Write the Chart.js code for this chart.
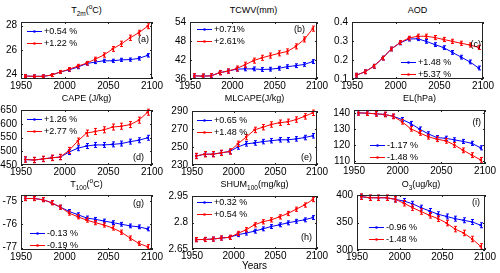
<!DOCTYPE html>
<html>
<head>
<meta charset="utf-8">
<script src="https://cdn.jsdelivr.net/npm/chart.js@4.4.1/dist/chart.umd.min.js"></script>
<style>
body{margin:0;background:#fff;width:500px;height:273px;overflow:hidden;position:relative;font-family:"Liberation Sans",Arial,sans-serif}
canvas{position:absolute}
.ttl{position:absolute;text-align:center;font-size:9px;line-height:11px;color:#000;white-space:nowrap}
.ttl sub,.ttl sup{font-size:6.5px;line-height:0}
</style>
</head>
<body>
<script>
var FONT = '"Liberation Sans", Arial, sans-serif';

// decadal means
var years = [1955, 1965, 1975, 1985, 1995, 2005, 2015, 2025, 2035, 2045, 2055, 2065, 2075, 2085, 2095];
var xTicks = [1950, 2000, 2050, 2100];

// (a) T2m
var t2mBlue = [23.84, 23.82, 23.82, 23.92, 24.18, 24.36, 24.58, 24.87, 25.0, 25.1, 25.1, 25.18, 25.2, 25.3, 25.55];
var t2mRed  = [23.84, 23.82, 23.82, 23.92, 24.18, 24.4, 24.66, 24.9, 25.24, 25.58, 26.08, 26.5, 27.0, 27.42, 27.95];
var t2mErrBlue = [0.12, 0.12, 0.12, 0.12, 0.12, 0.13, 0.13, 0.13, 0.13, 0.13, 0.13, 0.13, 0.13, 0.14, 0.14];
var t2mErrRed  = [0.12, 0.12, 0.12, 0.12, 0.12, 0.14, 0.15, 0.15, 0.16, 0.18, 0.2, 0.22, 0.22, 0.2, 0.2];
var t2mPct = ['+0.54 %', '+1.22 %'];
var t2mTicks = [24, 26, 28];

// (b) TCWV
var tcwvBlue = [37.0, 36.9, 37.0, 38.0, 38.5, 39.1, 39.2, 39.2, 39.0, 39.1, 39.4, 39.9, 40.2, 40.6, 41.5];
var tcwvRed  = [37.0, 36.9, 37.0, 38.0, 38.5, 39.3, 40.5, 41.8, 42.7, 43.4, 44.1, 44.7, 46.3, 48.5, 51.9];
var tcwvErrBlue = [0.6, 0.6, 0.6, 0.6, 0.6, 0.6, 0.6, 0.6, 0.6, 0.6, 0.6, 0.6, 0.6, 0.6, 0.6];
var tcwvErrRed  = [0.7, 0.7, 0.7, 0.7, 0.7, 0.8, 0.8, 0.8, 0.8, 0.8, 0.8, 0.8, 0.8, 0.8, 0.8];
var tcwvPct = ['+0.71%', '+2.61%'];
var tcwvTicks = [36, 42, 48, 54];

// (c) AOD
var aodBlue = [0.12, 0.138, 0.167, 0.21, 0.258, 0.29, 0.31, 0.312, 0.298, 0.281, 0.265, 0.24, 0.215, 0.19, 0.158];
var aodRed  = [0.12, 0.138, 0.167, 0.21, 0.258, 0.292, 0.315, 0.325, 0.325, 0.318, 0.308, 0.298, 0.288, 0.279, 0.266];
var aodErrBlue = [0.01, 0.01, 0.01, 0.01, 0.01, 0.01, 0.01, 0.01, 0.01, 0.01, 0.01, 0.01, 0.01, 0.01, 0.01];
var aodErrRed  = [0.01, 0.01, 0.01, 0.01, 0.01, 0.01, 0.01, 0.011, 0.011, 0.011, 0.011, 0.011, 0.011, 0.011, 0.011];
var aodPct = ['+1.48 %', '+5.37 %'];
var aodTicks = [0.1, 0.2, 0.3, 0.4];

// (d) CAPE
var capeBlue = [470, 468, 472, 476, 479, 497, 511, 519, 523, 523, 525, 528, 535, 540, 549];
var capeRed  = [470, 468, 472, 476, 479, 503, 537, 566, 572, 578, 588, 591, 597, 613, 642];
var capeErrBlue = [9, 9, 9, 9, 9, 9, 9, 9, 9, 9, 9, 9, 9, 9, 9];
var capeErrRed  = [10, 10, 10, 10, 10, 11, 11, 11, 11, 11, 11, 11, 11, 11, 11];
var capePct = ['+1.26 %', '+2.77 %'];
var capeTicks = [450, 500, 550, 600, 650];

// (e) MLCAPE
var mlcapeBlue = [240, 242, 242, 243.5, 245, 250, 253.5, 254.5, 256, 257, 258, 258, 259, 260.5, 262.5];
var mlcapeRed  = [240, 242, 242, 243.5, 245, 253.5, 261, 269, 272, 275, 277, 278, 280.5, 284, 288];
var mlcapeErrBlue = [2.5, 2.5, 2.5, 2.5, 2.5, 2.5, 2.5, 2.5, 2.5, 2.5, 2.5, 2.5, 2.5, 2.5, 2.5];
var mlcapeErrRed  = [3, 3, 3, 3, 3, 3, 3, 3, 3, 3, 3, 3, 3, 3, 3];
var mlcapePct = ['+0.65 %', '+1.48 %'];
var mlcapeTicks = [230, 250, 270, 290];

// (f) EL
var elBlue = [140.2, 140, 139.6, 139.2, 138, 136, 133.5, 130, 127, 124.6, 124.2, 123.2, 122.2, 121, 118.2];
var elRed  = [140.2, 140, 139.6, 139.2, 138, 134.6, 130.2, 127.6, 125.2, 123.6, 122.6, 120, 116.6, 113.6, 110.6];
var elErrBlue = [1.3, 1.3, 1.3, 1.3, 1.3, 1.3, 1.3, 1.3, 1.3, 1.3, 1.3, 1.3, 1.3, 1.3, 1.3];
var elErrRed  = [1.5, 1.5, 1.5, 1.5, 1.5, 1.5, 1.5, 1.5, 1.5, 1.5, 1.5, 1.5, 1.5, 1.5, 1.5];
var elPct = ['-1.17 %', '-1.48 %'];
var elTicks = [110, 120, 130, 140];

// (g) T100
var t100Blue = [-74.9, -74.9, -74.95, -75.08, -75.27, -75.45, -75.59, -75.73, -75.79, -75.86, -75.93, -76.0, -76.07, -76.11, -76.2];
var t100Red  = [-74.9, -74.9, -74.95, -75.08, -75.27, -75.52, -75.68, -75.82, -75.93, -76.03, -76.16, -76.34, -76.59, -76.82, -76.96];
var t100ErrBlue = [0.08, 0.08, 0.08, 0.08, 0.08, 0.08, 0.08, 0.08, 0.08, 0.08, 0.08, 0.08, 0.08, 0.08, 0.08];
var t100ErrRed  = [0.09, 0.09, 0.09, 0.09, 0.09, 0.09, 0.09, 0.09, 0.09, 0.09, 0.09, 0.09, 0.09, 0.09, 0.09];
var t100Pct = ['-0.13 %', '-0.19 %'];
var t100Ticks = [-77, -76, -75];

// (h) SHUM100
var shumBlue = [2.703, 2.704, 2.706, 2.712, 2.716, 2.731, 2.74, 2.751, 2.764, 2.777, 2.787, 2.798, 2.807, 2.815, 2.828];
var shumRed  = [2.703, 2.704, 2.706, 2.712, 2.716, 2.738, 2.759, 2.787, 2.804, 2.815, 2.832, 2.851, 2.875, 2.899, 2.93];
var shumErrBlue = [0.011, 0.011, 0.011, 0.011, 0.011, 0.011, 0.011, 0.011, 0.011, 0.011, 0.011, 0.011, 0.011, 0.011, 0.011];
var shumErrRed  = [0.012, 0.012, 0.012, 0.012, 0.012, 0.012, 0.012, 0.012, 0.012, 0.012, 0.012, 0.012, 0.012, 0.012, 0.012];
var shumPct = ['+0.32 %', '+0.54 %'];
var shumTicks = [2.65, 2.8, 2.95];

// (i) O3
var o3Blue = [397, 395, 395, 395, 392, 389, 384, 377, 371, 365, 361, 357, 354, 351, 345];
var o3Red  = [397, 395, 395, 395, 392, 385, 377, 370, 363, 357, 349, 338, 331, 320, 306.6];
var o3ErrBlue = [4.5, 4.5, 4.5, 4.5, 4.5, 4.5, 4.5, 4.5, 4.5, 4.5, 4.5, 4.5, 4.5, 4.5, 4.5];
var o3ErrRed  = [5, 5, 5, 5, 5, 5, 5, 5, 5, 5, 5, 5, 5, 5, 5];
var o3Pct = ['-0.96 %', '-1.48 %'];
var o3Ticks = [300, 350, 400];

// box = plot frame [left, top, right, bottom]; leg = legend offset; tag = letter offset (from right, from top)
var panels = [
  {tag:'(a)', title:'T<sub>2m</sub>(<sup>o</sup>C)', blue:t2mBlue, red:t2mRed, eb:t2mErrBlue, er:t2mErrRed, pct:t2mPct, ticks:t2mTicks, min:23.6, max:28.3, box:[21,20,152,79], leg:[6,9], tagPos:[3,18], ty:10},
  {tag:'(b)', title:'TCWV(mm)', blue:tcwvBlue, red:tcwvRed, eb:tcwvErrBlue, er:tcwvErrRed, pct:tcwvPct, ticks:tcwvTicks, min:36, max:54, box:[190,20,317,79], leg:[7,7], tagPos:[12,8], ty:10},
  {tag:'(c)', title:'AOD', blue:aodBlue, red:aodRed, eb:aodErrBlue, er:aodErrRed, pct:aodPct, ticks:aodTicks, min:0.1, max:0.4, box:[352,20,483,79], leg:[49,40], tagPos:[2,23], ty:10},
  {tag:'(d)', title:'CAPE (J/kg)', blue:capeBlue, red:capeRed, eb:capeErrBlue, er:capeErrRed, pct:capePct, ticks:capeTicks, min:450, max:650, box:[21,108,152,165], leg:[6,9], tagPos:[8,48], ty:98},
  {tag:'(e)', title:'MLCAPE(J/kg)', blue:mlcapeBlue, red:mlcapeRed, eb:mlcapeErrBlue, er:mlcapeErrRed, pct:mlcapePct, ticks:mlcapeTicks, min:230, max:290, box:[192,109,317,165], leg:[5,9], tagPos:[5,47], ty:98},
  {tag:'(f)', title:'EL(hPa)', blue:elBlue, red:elRed, eb:elErrBlue, er:elErrRed, pct:elPct, ticks:elTicks, min:108, max:142, box:[354,108,485,164], leg:[16,35], tagPos:[4,13], ty:98},
  {tag:'(g)', title:'T<sub>100</sub>(<sup>o</sup>C)', blue:t100Blue, red:t100Red, eb:t100ErrBlue, er:t100ErrRed, pct:t100Pct, ticks:t100Ticks, min:-77.1, max:-74.75, box:[21,193,152,250], leg:[9,38], tagPos:[8,9], ty:184},
  {tag:'(h)', title:'SHUM<sub>100</sub>(mg/kg)', blue:shumBlue, red:shumRed, eb:shumErrBlue, er:shumErrRed, pct:shumPct, ticks:shumTicks, min:2.65, max:2.95, box:[192,194,317,249], leg:[5,6], tagPos:[5,42], ty:184, xlabel:'Years'},
  {tag:'(i)', title:'O<sub>3</sub>(ug/kg)', blue:o3Blue, red:o3Red, eb:o3ErrBlue, er:o3ErrRed, pct:o3Pct, ticks:o3Ticks, min:300, max:400, box:[357,193,485,250], leg:[12,32], tagPos:[5,8], ty:184}
];

var deco = {
  id: 'deco',
  afterDatasetDraw: function(chart, args) {
    var ds = chart.data.datasets[args.index];
    var ys = chart.scales.y, ctx = chart.ctx;
    ctx.save();
    ctx.strokeStyle = ds.borderColor;
    ctx.lineWidth = 1;
    args.meta.data.forEach(function(pt, i) {
      var v = ds.data[i].y, e = ds.err[i];
      var y1 = ys.getPixelForValue(v - e), y2 = ys.getPixelForValue(v + e);
      var x = Math.round(pt.x) + 0.5;
      ctx.beginPath();
      ctx.moveTo(x, y1); ctx.lineTo(x, y2);
      ctx.moveTo(x - 1.5, y1); ctx.lineTo(x + 1.5, y1);
      ctx.moveTo(x - 1.5, y2); ctx.lineTo(x + 1.5, y2);
      ctx.stroke();
    });
    ctx.restore();
  },
  afterDraw: function(chart, args, opts) {
    var a = chart.chartArea, ctx = chart.ctx;
    ctx.save();
    // frame + inward ticks
    ctx.strokeStyle = '#222';
    ctx.lineWidth = 1;
    ctx.strokeRect(a.left + 0.5, a.top + 0.5, a.right - a.left - 1, a.bottom - a.top - 1);
    ctx.beginPath();
    chart.scales.x.ticks.forEach(function(t) {
      var x = Math.round(chart.scales.x.getPixelForValue(t.value)) + 0.5;
      ctx.moveTo(x, a.bottom); ctx.lineTo(x, a.bottom - 2);
      ctx.moveTo(x, a.top); ctx.lineTo(x, a.top + 2);
    });
    chart.scales.y.ticks.forEach(function(t) {
      var y = Math.round(chart.scales.y.getPixelForValue(t.value)) + 0.5;
      ctx.moveTo(a.left, y); ctx.lineTo(a.left + 2, y);
      ctx.moveTo(a.right, y); ctx.lineTo(a.right - 2, y);
    });
    ctx.stroke();
    // legend
    ctx.font = '9px ' + FONT;
    ctx.textBaseline = 'middle';
    ctx.textAlign = 'left';
    chart.data.datasets.forEach(function(ds, i) {
      var x0 = a.left + opts.leg[0], y = a.top + opts.leg[1] + i * 12 + 0.5;
      ctx.strokeStyle = ds.borderColor;
      ctx.fillStyle = ds.borderColor;
      ctx.beginPath(); ctx.moveTo(x0, y); ctx.lineTo(x0 + 15, y); ctx.stroke();
      ctx.beginPath(); ctx.arc(x0 + 7.5, y, 1.3, 0, Math.PI * 2); ctx.fill();
      ctx.fillStyle = '#000';
      ctx.fillText(ds.label, x0 + 17, y);
    });
    // panel letter
    ctx.textAlign = 'right';
    ctx.fillText(opts.tag, a.right - opts.tagPos[0], a.top + opts.tagPos[1]);
    ctx.restore();
  }
};

var L = 30, T = 8, R = 14, B = 16;

panels.forEach(function(p) {
  var l = p.box[0], t = p.box[1], r = p.box[2], b = p.box[3];
  var bh = p.xlabel ? 24 : B;

  var ttl = document.createElement('div');
  ttl.className = 'ttl';
  ttl.style.left = l + 'px';
  ttl.style.width = (r - l) + 'px';
  ttl.style.top = (p.ty - 5.5) + 'px';
  ttl.innerHTML = p.title;
  document.body.appendChild(ttl);

  var cv = document.createElement('canvas');
  cv.width = r - l + L + R;
  cv.height = b - t + T + bh;
  cv.style.left = (l - L) + 'px';
  cv.style.top = (t - T) + 'px';
  document.body.appendChild(cv);

  var tickFont = {size: 10, family: FONT};
  new Chart(cv, {
    type: 'line',
    data: {
      datasets: [
        {label: p.pct[0], data: years.map(function(x, i) { return {x: x, y: p.blue[i]}; }), err: p.eb,
         borderColor: '#0000ff', backgroundColor: '#0000ff', pointBackgroundColor: '#0000ff', order: 1},
        {label: p.pct[1], data: years.map(function(x, i) { return {x: x, y: p.red[i]}; }), err: p.er,
         borderColor: '#ff0000', backgroundColor: '#ff0000', pointBackgroundColor: '#ff0000', order: 0}
      ]
    },
    options: {
      responsive: false,
      animation: false,
      devicePixelRatio: 1,
      layout: {padding: {left: 0, top: T, right: R, bottom: 0}},
      elements: {
        line: {borderWidth: 1, tension: 0},
        point: {radius: 1.3, borderWidth: 0, hoverRadius: 1.3}
      },
      plugins: {
        legend: {display: false},
        tooltip: {enabled: false},
        deco: {leg: p.leg, tag: p.tag, tagPos: p.tagPos}
      },
      scales: {
        x: {
          type: 'linear', min: 1950, max: 2100,
          afterBuildTicks: function(s) { s.ticks = xTicks.map(function(v) { return {value: v}; }); },
          afterFit: function(s) { s.height = bh; },
          grid: {display: false, drawTicks: false},
          border: {display: false},
          ticks: {padding: 1, maxRotation: 0, autoSkip: false, color: '#000', font: tickFont,
                  callback: function(v) { return String(v); }},
          title: {display: !!p.xlabel, text: p.xlabel || '', color: '#000', font: tickFont, padding: {top: 0, bottom: 1}}
        },
        y: {
          min: p.min, max: p.max,
          afterBuildTicks: function(s) { s.ticks = p.ticks.map(function(v) { return {value: v}; }); },
          afterFit: function(s) { s.width = L; },
          grid: {display: false, drawTicks: false},
          border: {display: false},
          ticks: {padding: 4, autoSkip: false, color: '#000', font: tickFont,
                  callback: function(v) { return String(v); }}
        }
      }
    },
    plugins: [deco]
  });
});
</script>
</body>
</html>
